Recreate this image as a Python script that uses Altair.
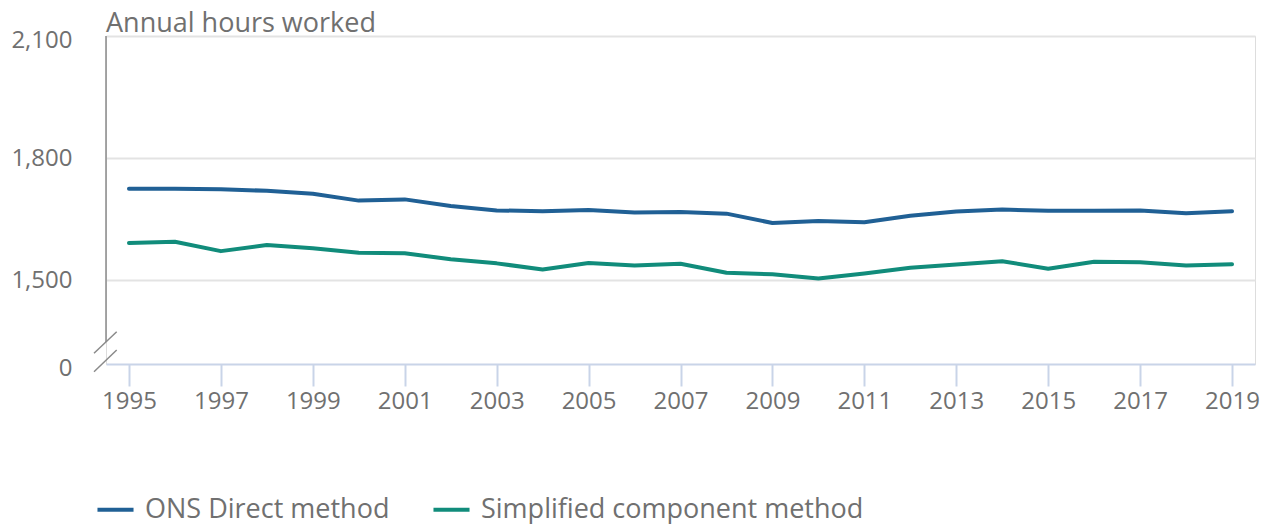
import altair as alt
import pandas as pd

years = list(range(1995, 2020))
ons_direct = [1725, 1725, 1724, 1720, 1713, 1696, 1699, 1683, 1672, 1670, 1673, 1667, 1668,
              1664, 1641, 1646, 1643, 1659, 1669, 1674, 1671, 1671, 1672, 1665, 1670]
simplified = [1592, 1595, 1572, 1587, 1579, 1568, 1567, 1552, 1542, 1527, 1543, 1537, 1541,
              1519, 1515, 1505, 1517, 1531, 1539, 1547, 1529, 1546, 1545, 1537, 1540]
series_names = ["ONS Direct method", "Simplified component method"]
series_colors = ["#206095", "#118c7b"]
x_ticks = list(range(1995, 2020, 2))
y_ticks = [1295, 1500, 1800, 2100]

rows = []
for name, vals in zip(series_names, [ons_direct, simplified]):
    for y, v in zip(years, vals):
        rows.append({"year": y, "value": v, "series": name})
df = pd.DataFrame(rows)

FONT = "Open Sans"
TXT = "#707070"

x_enc = alt.X("year:Q", scale=alt.Scale(domain=[1994.5, 2019.5], nice=False, zero=False),
              axis=alt.Axis(values=x_ticks, format="d", title=None, grid=False,
                            domainColor="#c9d4e8", domainWidth=2, tickColor="#c9d4e8",
                            tickWidth=2, tickSize=22, labelFontSize=24, labelColor=TXT,
                            labelFont=FONT, labelPadding=3, labelFlush=False))
y_enc = alt.Y("value:Q", scale=alt.Scale(domain=[1295, 2100], nice=False, zero=False),
              axis=alt.Axis(values=y_ticks, title=None, domain=False, ticks=False,
                            labelExpr="datum.value < 1400 ? '0' : format(datum.value, ',')",
                            labelFontSize=24, labelColor=TXT, labelFont=FONT, labelPadding=34,
                            labelOffset={"condition": {"test": "datum.value < 1400 || datum.value > 2000",
                                                       "value": 4}, "value": 0},
                            gridColor={"condition": {"test": "datum.value < 1400", "value": "transparent"},
                                       "value": "#e3e3e3"},
                            gridWidth=2))

lines = alt.Chart(df).mark_line(strokeWidth=4, strokeCap="round", strokeJoin="round").encode(
    x=x_enc, y=y_enc,
    color=alt.Color("series:N", scale=alt.Scale(domain=series_names, range=series_colors),
                    legend=alt.Legend(title=None, orient="none", direction="horizontal",
                                      legendX=-11, legendY=453, symbolType="stroke",
                                      symbolSize=1300, symbolStrokeWidth=4,
                                      labelFontSize=27, labelFont=FONT, labelColor=TXT,
                                      labelOffset=9, columnPadding=35, labelLimit=600)),
)

axis_df = pd.DataFrame({"top": [2100], "bottom": [1349]})
yaxis_line = alt.Chart(axis_df).mark_rule(color="#8a8a8a", strokeWidth=1.5).encode(
    x=alt.value(0), y=alt.Y("top:Q"), y2=alt.Y2("bottom:Q"))

brk1 = alt.Chart(axis_df).mark_rule(color="#8a8a8a", strokeWidth=1.5).encode(
    x=alt.value(-12), x2=alt.value(10.7), y=alt.value(317.3), y2=alt.value(295.7))
brk2 = alt.Chart(axis_df).mark_rule(color="#8a8a8a", strokeWidth=1.5).encode(
    x=alt.value(-12), x2=alt.value(10.7), y=alt.value(335.7), y2=alt.value(314))

chart = alt.layer(lines, yaxis_line, brk1, brk2).properties(
    width=1149, height=328,
    title=alt.Title("Annual hours worked", anchor="start", frame="group", fontSize=27,
                    font=FONT, color=TXT, fontWeight="normal", offset=4, dy=14),
    autosize=alt.AutoSizeParams(type="none"),
    padding={"left": 106, "top": 36, "right": 13, "bottom": 160},
).configure_view(stroke=None).configure(background="white")

chart.save("out.html", embed_options={"renderer": "svg", "actions": False})
